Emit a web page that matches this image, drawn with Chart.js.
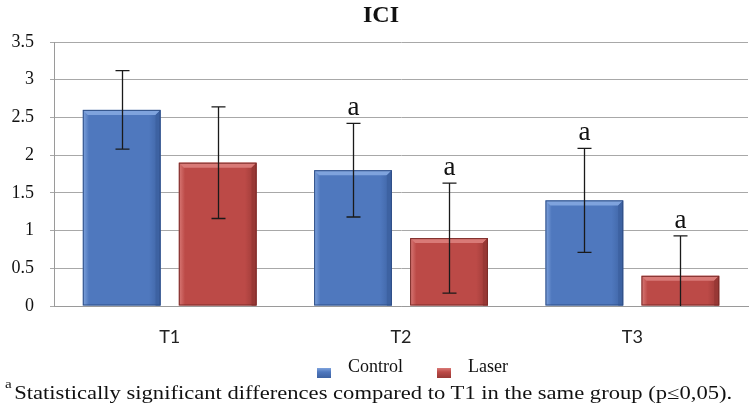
<!DOCTYPE html>
<html><head><meta charset="utf-8">
<script src="https://cdn.jsdelivr.net/npm/chart.js@4"></script>
<style>
html,body{margin:0;padding:0;background:#fff;}
#wrap{position:relative;width:750px;height:410px;overflow:hidden;}
#c{position:absolute;left:0;top:0;}
#note{position:absolute;left:5px;top:381px;font-family:"Liberation Serif","Times New Roman",serif;font-size:18px;color:#111;white-space:nowrap;transform:scaleX(1.255);transform-origin:0 0;}
#note sup{font-size:12px;position:relative;top:-4px;margin-right:2px;}
</style></head>
<body><div id="wrap"><canvas id="c" width="750" height="410"></canvas>
<div id="note"><sup>a</sup>Statistically significant differences compared to T1 in the same group (p≤0,05).</div></div>
<script>
const categories = ['T1', 'T2', 'T3'];
const controlValues = [2.6, 1.8, 1.4];
const controlErrors = [0.52, 0.62, 0.69];
const controlMarks = ['', 'a', 'a'];
const laserValues = [1.9, 0.9, 0.4];
const laserErrors = [0.74, 0.73, 0.53];
const laserMarks = ['', 'a', 'a'];
const yTicks = [0, 0.5, 1, 1.5, 2, 2.5, 3, 3.5];

const palette = [
  {body:'#4f78be', light:'#7fa3dd', dark:'#3d62a2', edge:'#2f4e86'},
  {body:'#bc4a47', light:'#d97a77', dark:'#983835', edge:'#7a2b28'}
];
const errs = [controlErrors, laserErrors];
const marks = [controlMarks, laserMarks];

const decor = {
  id:'decor',
  afterDatasetsDraw(chart){
    const ctx = chart.ctx, ys = chart.scales.y;
    chart.data.datasets.forEach((ds, di) => {
      const meta = chart.getDatasetMeta(di), p = palette[di];
      meta.data.forEach((bar, i) => {
        const w = bar.width, x0 = bar.x - w/2, x1 = bar.x + w/2, y = bar.y, b = bar.base;
        const bv = 5;
        ctx.save();
        const g = ctx.createLinearGradient(x0,0,x1,0);
        g.addColorStop(0,p.light); g.addColorStop(0.08,p.body); g.addColorStop(0.85,p.body); g.addColorStop(1,p.dark);
        ctx.fillStyle = g; ctx.fillRect(x0,y,w,b-y);
        ctx.fillStyle = p.light;
        ctx.beginPath(); ctx.moveTo(x0,y); ctx.lineTo(x1,y); ctx.lineTo(x1-bv,y+bv); ctx.lineTo(x0+bv,y+bv); ctx.closePath(); ctx.fill();
        ctx.fillStyle = p.dark;
        ctx.beginPath(); ctx.moveTo(x1,y); ctx.lineTo(x1,b); ctx.lineTo(x1-bv,b); ctx.lineTo(x1-bv,y+bv); ctx.closePath(); ctx.fill();
        ctx.strokeStyle = p.edge; ctx.lineWidth = 1;
        ctx.strokeRect(x0+0.5,y+0.5,w-1,b-y-1);
        const v = ds.data[i], e = errs[di][i];
        const yt = ys.getPixelForValue(v+e), yb = ys.getPixelForValue(Math.max(0, v-e));
        const cx = Math.round(bar.x)+0.5;
        ctx.strokeStyle = '#1a1a1a'; ctx.lineWidth = 1.3;
        ctx.beginPath(); ctx.moveTo(cx,yt); ctx.lineTo(cx,yb);
        ctx.moveTo(cx-7,yt); ctx.lineTo(cx+7,yt);
        if (v-e > 0){ ctx.moveTo(cx-7,yb); ctx.lineTo(cx+7,yb); }
        ctx.stroke();
        const m = marks[di][i];
        if (m){
          ctx.fillStyle = '#111'; ctx.font = '27px "Liberation Serif", serif';
          ctx.textAlign = 'center'; ctx.textBaseline = 'alphabetic';
          ctx.fillText(m, cx, yt-8);
        }
        ctx.restore();
      });
    });
    ctx.save();
    ctx.fillStyle = '#111'; ctx.font = 'bold 24px "Liberation Serif", serif';
    ctx.textAlign = 'center'; ctx.textBaseline = 'middle';
    ctx.fillText('ICI', 381, 16);
    ctx.font = '18px "Liberation Serif", serif'; ctx.textAlign='left'; ctx.textBaseline='middle';
    const items = [{x:317, label:chart.data.datasets[0].label, p:palette[0]}, {x:437, label:chart.data.datasets[1].label, p:palette[1]}];
    items.forEach(it => {
      const g = ctx.createLinearGradient(0,368,0,378);
      g.addColorStop(0,it.p.light); g.addColorStop(0.4,it.p.body); g.addColorStop(1,it.p.dark);
      ctx.fillStyle = g; ctx.fillRect(it.x,368,14,10);
      ctx.fillStyle = '#111'; ctx.fillText(it.label, it.x+31, 367);
    });
    ctx.restore();
  }
};

new Chart(document.getElementById('c'), {
  type:'bar',
  data:{
    labels: categories,
    datasets:[
      {label:'Control', data:controlValues, backgroundColor:'rgba(0,0,0,0)', borderWidth:0},
      {label:'Laser', data:laserValues, backgroundColor:'rgba(0,0,0,0)', borderWidth:0}
    ]
  },
  options:{
    responsive:false, animation:false,
    layout:{padding:{top:42,right:2,left:0,bottom:0}},
    datasets:{bar:{categoryPercentage:0.83, barPercentage:0.81}},
    plugins:{legend:{display:false}, title:{display:false}, tooltip:{enabled:false}},
    scales:{
      x:{
        grid:{display:false},
        border:{display:true,color:'#9a9a9a'},
        ticks:{font:{family:'Lato, "Open Sans", sans-serif', size:18}, color:'#222', padding:12},
        afterFit(s){ s.height = 104; }
      },
      y:{
        min:0, max:3.5,
        afterBuildTicks(s){ s.ticks = yTicks.map(v => ({value:v})); },
        grid:{color:'#a8a8a8', tickLength:4, drawTicks:true},
        border:{display:true,color:'#9a9a9a'},
        ticks:{font:{family:'"Liberation Serif", serif', size:18}, color:'#111', padding:16, callback:(v) => String(v)},
        afterFit(s){ s.width = 54; }
      }
    }
  },
  plugins:[decor]
});
</script></body></html>
